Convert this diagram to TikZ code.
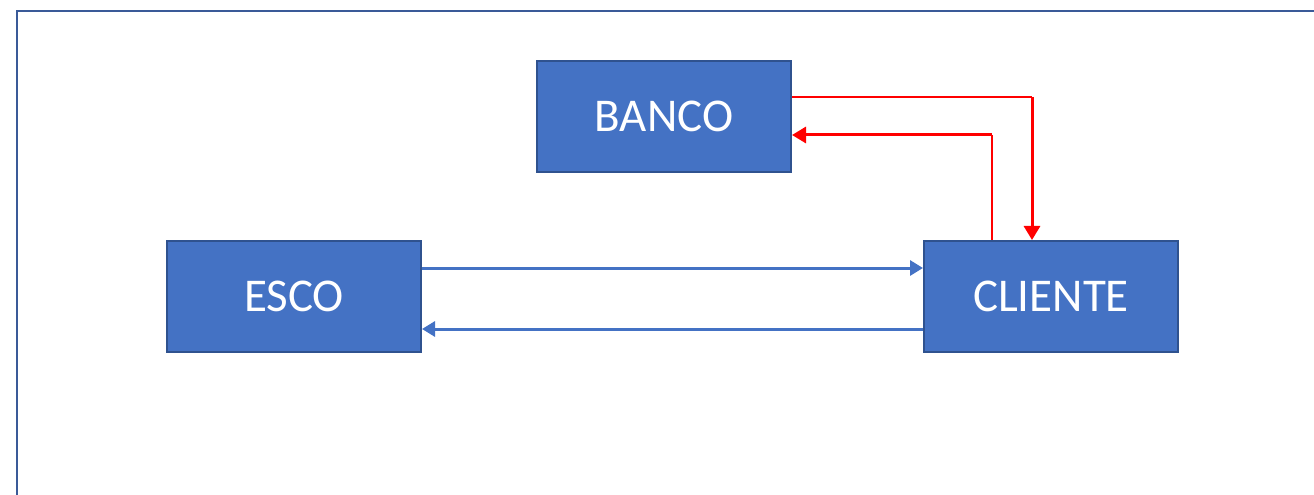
\documentclass[tikz,border=0pt]{standalone}
\usepackage{fontspec}
\setmainfont{Carlito}
\usepackage{tikz}
\usetikzlibrary{arrows.meta}
\definecolor{boxfill}{HTML}{4472C4}
\definecolor{boxline}{HTML}{2F528F}
\definecolor{framecol}{HTML}{3A5A98}
\definecolor{linkred}{HTML}{FF0000}
\tikzstyle{entity} = [rectangle, minimum width=254bp, minimum height=111bp, text centered, draw=boxline, line width=2bp, fill=boxfill, text=white, font=\fontsize{47bp}{51bp}\selectfont]
\tikzstyle{flow} = [draw=boxfill, line width=3bp, -{Triangle[length=13bp,width=15bp]}]
\tikzstyle{redthin} = [draw=linkred, line width=1.3bp]
\tikzstyle{redarrow} = [draw=linkred, line width=3bp, -{Triangle[length=14bp,width=16bp]}]

\begin{document}
\begin{tikzpicture}[x=1bp, y=-1bp]
					\useasboundingbox (0,0) rectangle (1314,495);
					\clip (0,0) rectangle (1314,495);
					\draw[framecol, line width=2.5bp] (17,600) -- (17,11) -- (1400,11);
					\node[entity] (banco) at (664,116.5) {BANCO};
					\node[entity] (esco) at (294,296.5) {ESCO};
					\node[entity] (cliente) at (1051,296.5) {CLIENTE};
					\coordinate (down) at (1032,97);
					\coordinate (up) at (992,135);
					\draw[flow] (esco.east |- 0,268) -- (cliente.west |- 0,268);
					\draw[flow] (cliente.west |- 0,329) -- (esco.east |- 0,329);
					\draw[redthin] (banco.east |- down) -- (down);
					\draw[redarrow] (down) -- (cliente.north -| down);
					\draw[redthin] (cliente.north -| up) -- (up);
					\draw[redarrow] (up) -- (banco.east |- up);
					\end{tikzpicture}
\end{document}
